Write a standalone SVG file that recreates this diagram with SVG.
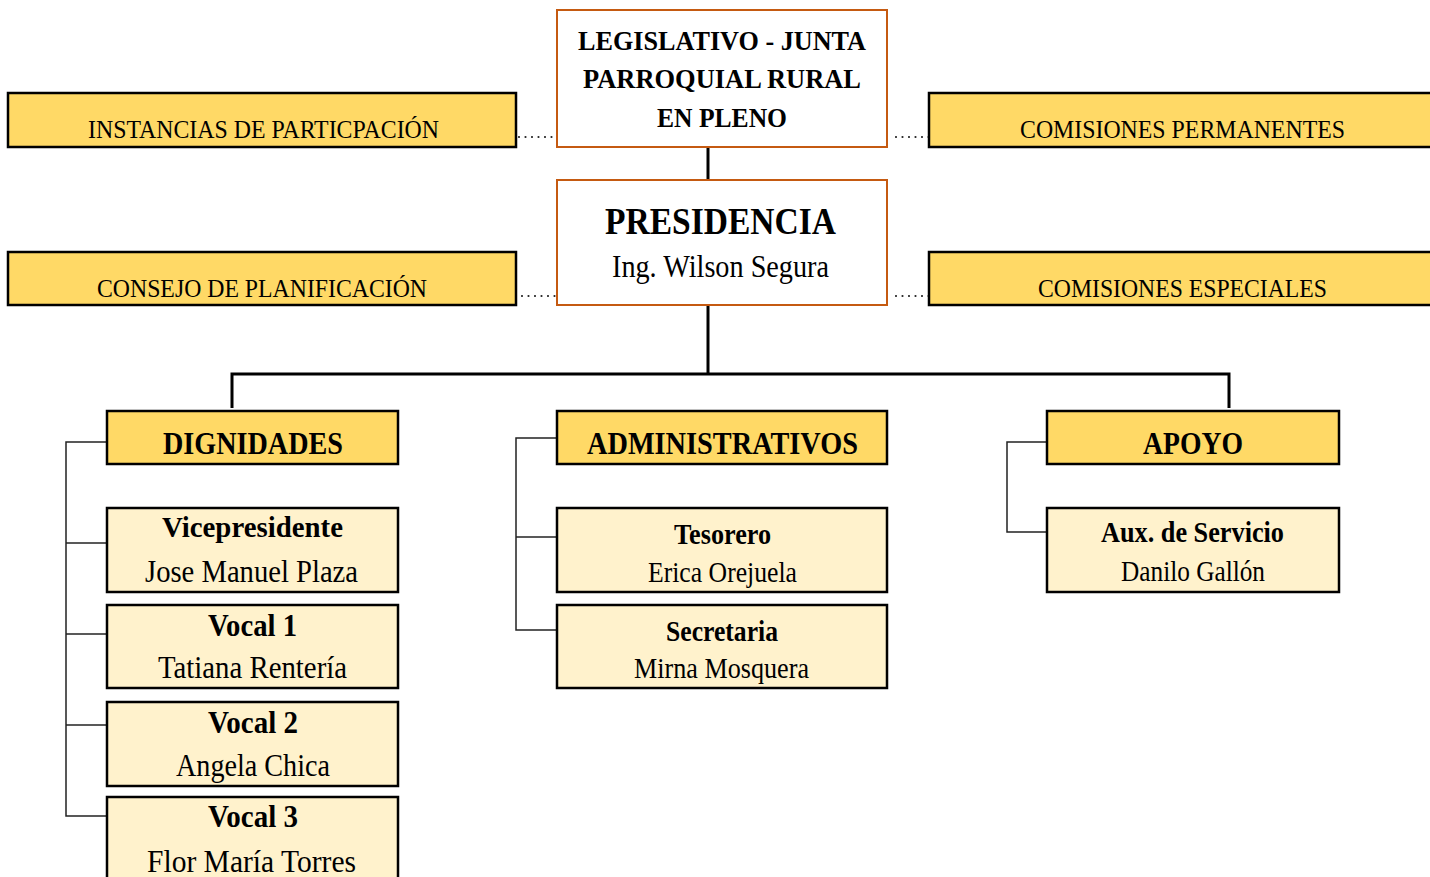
<svg xmlns="http://www.w3.org/2000/svg" width="1430" height="877" viewBox="0 0 1430 877">
<style>
text{font-family:"Liberation Serif","Times New Roman",serif;fill:#000;text-anchor:middle}
.b{font-weight:bold}
.top{fill:#fff;stroke:#C55A11;stroke-width:2}
.side{fill:#FFD966;stroke:#000;stroke-width:2.5}
.grp{fill:#FFD966;stroke:#000;stroke-width:2.5}
.item{fill:#FFF2CC;stroke:#000;stroke-width:2.5}
.main{stroke:#000;stroke-width:3;fill:none}
.thin{stroke:#222;stroke-width:1.5;fill:none}
.dot{stroke:#222;stroke-width:2.2;stroke-linecap:round;stroke-dasharray:0 6.5;fill:none}
</style>
<rect width="1430" height="877" fill="#fff"/>
<g id="connectors">
<line class="main" x1="708" y1="147" x2="708" y2="180"/>
<line class="main" x1="708" y1="305" x2="708" y2="374"/>
<polyline class="main" points="232,408 232,374 1229,374 1229,408"/>
<line class="dot" x1="519" y1="137" x2="552" y2="137"/>
<line class="dot" x1="522" y1="296" x2="555" y2="296"/>
<line class="dot" x1="896" y1="137" x2="929" y2="137"/>
<line class="dot" x1="896" y1="296" x2="929" y2="296"/>
<polyline class="thin" points="107,442 66,442 66,816 107,816"/>
<line class="thin" x1="66" y1="543" x2="107" y2="543"/>
<line class="thin" x1="66" y1="634" x2="107" y2="634"/>
<line class="thin" x1="66" y1="725" x2="107" y2="725"/>
<polyline class="thin" points="557,438 516,438 516,630 557,630"/>
<line class="thin" x1="516" y1="537" x2="557" y2="537"/>
<polyline class="thin" points="1047,442 1007,442 1007,532 1047,532"/>
</g>
<g id="legislativo">
<rect class="top" x="557" y="10" width="330" height="137"/>
<text class="b" x="722" y="50" font-size="28" textLength="288" lengthAdjust="spacingAndGlyphs">LEGISLATIVO - JUNTA</text>
<text class="b" x="722" y="88" font-size="28" textLength="278" lengthAdjust="spacingAndGlyphs">PARROQUIAL RURAL</text>
<text class="b" x="722" y="127" font-size="28" textLength="130" lengthAdjust="spacingAndGlyphs">EN PLENO</text>
</g>
<g id="presidencia">
<rect class="top" x="557" y="180" width="330" height="125"/>
<text class="b" x="720.5" y="234" font-size="38" textLength="231" lengthAdjust="spacingAndGlyphs">PRESIDENCIA</text>
<text x="720.5" y="277" font-size="31" textLength="217" lengthAdjust="spacingAndGlyphs">Ing. Wilson Segura</text>
</g>
<g id="instancias">
<rect class="side" x="8" y="93" width="508" height="54"/>
<text x="263.5" y="138" font-size="26" textLength="351" lengthAdjust="spacingAndGlyphs">INSTANCIAS DE PARTICPACIÓN</text>
</g>
<g id="consejo">
<rect class="side" x="8" y="252" width="508" height="53"/>
<text x="262" y="297" font-size="26" textLength="330" lengthAdjust="spacingAndGlyphs">CONSEJO DE PLANIFICACIÓN</text>
</g>
<g id="comisiones-permanentes">
<rect class="side" x="929" y="93" width="510" height="54"/>
<text x="1182.5" y="138" font-size="26" textLength="325" lengthAdjust="spacingAndGlyphs">COMISIONES PERMANENTES</text>
</g>
<g id="comisiones-especiales">
<rect class="side" x="929" y="252" width="510" height="53"/>
<text x="1182.5" y="297" font-size="26" textLength="289" lengthAdjust="spacingAndGlyphs">COMISIONES ESPECIALES</text>
</g>
<g id="dignidades">
<rect class="grp" x="107" y="411" width="291" height="53"/>
<text class="b" x="253" y="454" font-size="32" textLength="180" lengthAdjust="spacingAndGlyphs">DIGNIDADES</text>
</g>
<g id="administrativos">
<rect class="grp" x="557" y="411" width="330" height="53"/>
<text class="b" x="722.5" y="454" font-size="32" textLength="271" lengthAdjust="spacingAndGlyphs">ADMINISTRATIVOS</text>
</g>
<g id="apoyo">
<rect class="grp" x="1047" y="411" width="292" height="53"/>
<text class="b" x="1193" y="454" font-size="32" textLength="100" lengthAdjust="spacingAndGlyphs">APOYO</text>
</g>
<g id="vicepresidente">
<rect class="item" x="107" y="508" width="291" height="84"/>
<text class="b" x="252.5" y="537" font-size="30" textLength="181" lengthAdjust="spacingAndGlyphs">Vicepresidente</text>
<text x="251.5" y="582" font-size="32" textLength="213" lengthAdjust="spacingAndGlyphs">Jose Manuel Plaza</text>
</g>
<g id="vocal1">
<rect class="item" x="107" y="605" width="291" height="83"/>
<text class="b" x="252.5" y="636" font-size="32" textLength="89" lengthAdjust="spacingAndGlyphs">Vocal 1</text>
<text x="252.5" y="678" font-size="32" textLength="189" lengthAdjust="spacingAndGlyphs">Tatiana Rentería</text>
</g>
<g id="vocal2">
<rect class="item" x="107" y="702" width="291" height="84"/>
<text class="b" x="253" y="733" font-size="32" textLength="90" lengthAdjust="spacingAndGlyphs">Vocal 2</text>
<text x="253" y="776" font-size="32" textLength="154" lengthAdjust="spacingAndGlyphs">Angela Chica</text>
</g>
<g id="vocal3">
<rect class="item" x="107" y="797" width="291" height="90"/>
<text class="b" x="253" y="827" font-size="32" textLength="90" lengthAdjust="spacingAndGlyphs">Vocal 3</text>
<text x="251.5" y="872" font-size="32" textLength="209" lengthAdjust="spacingAndGlyphs">Flor María Torres</text>
</g>
<g id="tesorero">
<rect class="item" x="557" y="508" width="330" height="84"/>
<text class="b" x="722.5" y="544" font-size="29" textLength="97" lengthAdjust="spacingAndGlyphs">Tesorero</text>
<text x="722.5" y="582" font-size="29" textLength="149" lengthAdjust="spacingAndGlyphs">Erica Orejuela</text>
</g>
<g id="secretaria">
<rect class="item" x="557" y="605" width="330" height="83"/>
<text class="b" x="722" y="641" font-size="29" textLength="112" lengthAdjust="spacingAndGlyphs">Secretaria</text>
<text x="721.5" y="678" font-size="29" textLength="175" lengthAdjust="spacingAndGlyphs">Mirna Mosquera</text>
</g>
<g id="aux-servicio">
<rect class="item" x="1047" y="508" width="292" height="84"/>
<text class="b" x="1192.5" y="542" font-size="29" textLength="183" lengthAdjust="spacingAndGlyphs">Aux. de Servicio</text>
<text x="1193" y="581" font-size="29" textLength="144" lengthAdjust="spacingAndGlyphs">Danilo Gallón</text>
</g>
</svg>
